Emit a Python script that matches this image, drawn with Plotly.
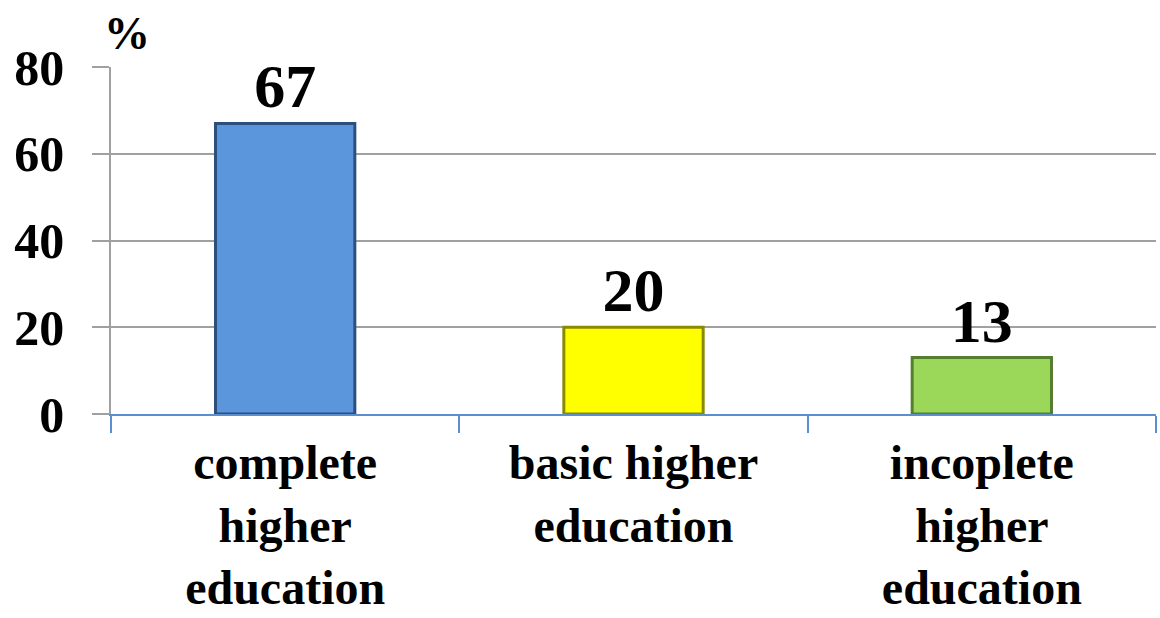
import plotly.graph_objects as go

categories = ["complete<br>higher<br>education", "basic higher<br>education", "incoplete<br>higher<br>education"]
values = [67, 20, 13]
bar_colors = ["#5b96dd", "#ffff00", "#9bd85a"]
edge_colors = ["#2c4f7c", "#8a8a00", "#557f2e"]
y_ticks = [0, 20, 40, 60, 80]

FONT = "Times New Roman, Liberation Serif, serif"

fig = go.Figure()
fig.add_trace(go.Bar(
    x=categories,
    y=values,
    width=0.4,
    marker=dict(color=bar_colors, line=dict(color=edge_colors, width=3)),
    text=[str(v) for v in values],
    textposition="outside",
    textfont=dict(family=FONT, size=62, color="black", weight="bold"),
    cliponaxis=False,
))

fig.update_layout(
    width=1160, height=618,
    margin=dict(l=111, r=4, t=67, b=204),
    paper_bgcolor="white", plot_bgcolor="white",
    showlegend=False,
    font=dict(family=FONT, color="black"),
    bargap=0.6,
    annotations=[dict(
        text="<b>%</b>", xref="paper", yref="paper", x=0.015, y=1.0,
        xanchor="center", yanchor="bottom", yshift=6, showarrow=False,
        font=dict(family=FONT, size=46, color="black"),
    )],
)

fig.update_xaxes(
    type="category", automargin=False,
    showline=True, linecolor="#5b8fd0", linewidth=1.5,
    ticks="outside", tickson="boundaries", ticklen=17, tickcolor="#5b8fd0", tickwidth=1.5,
    tickfont=dict(family=FONT, size=48, color="black", weight="bold"),
    ticklabelstandoff=6,
    showgrid=False,
)
fig.update_yaxes(
    range=[0, 80], tickvals=y_ticks, automargin=False,
    showline=True, linecolor="#a0a0a0", linewidth=1.5,
    ticks="outside", ticklen=17, tickcolor="#a0a0a0", tickwidth=1.5,
    showgrid=True, gridcolor="#a0a0a0", gridwidth=1.5,
    zeroline=False,
    ticklabelstandoff=18,
    tickfont=dict(family=FONT, size=50, color="black", weight="bold"),
)

fig.write_html("out.html", config={"displayModeBar": False},
               post_script="document.body.style.margin='0';document.body.style.overflow='hidden';")
